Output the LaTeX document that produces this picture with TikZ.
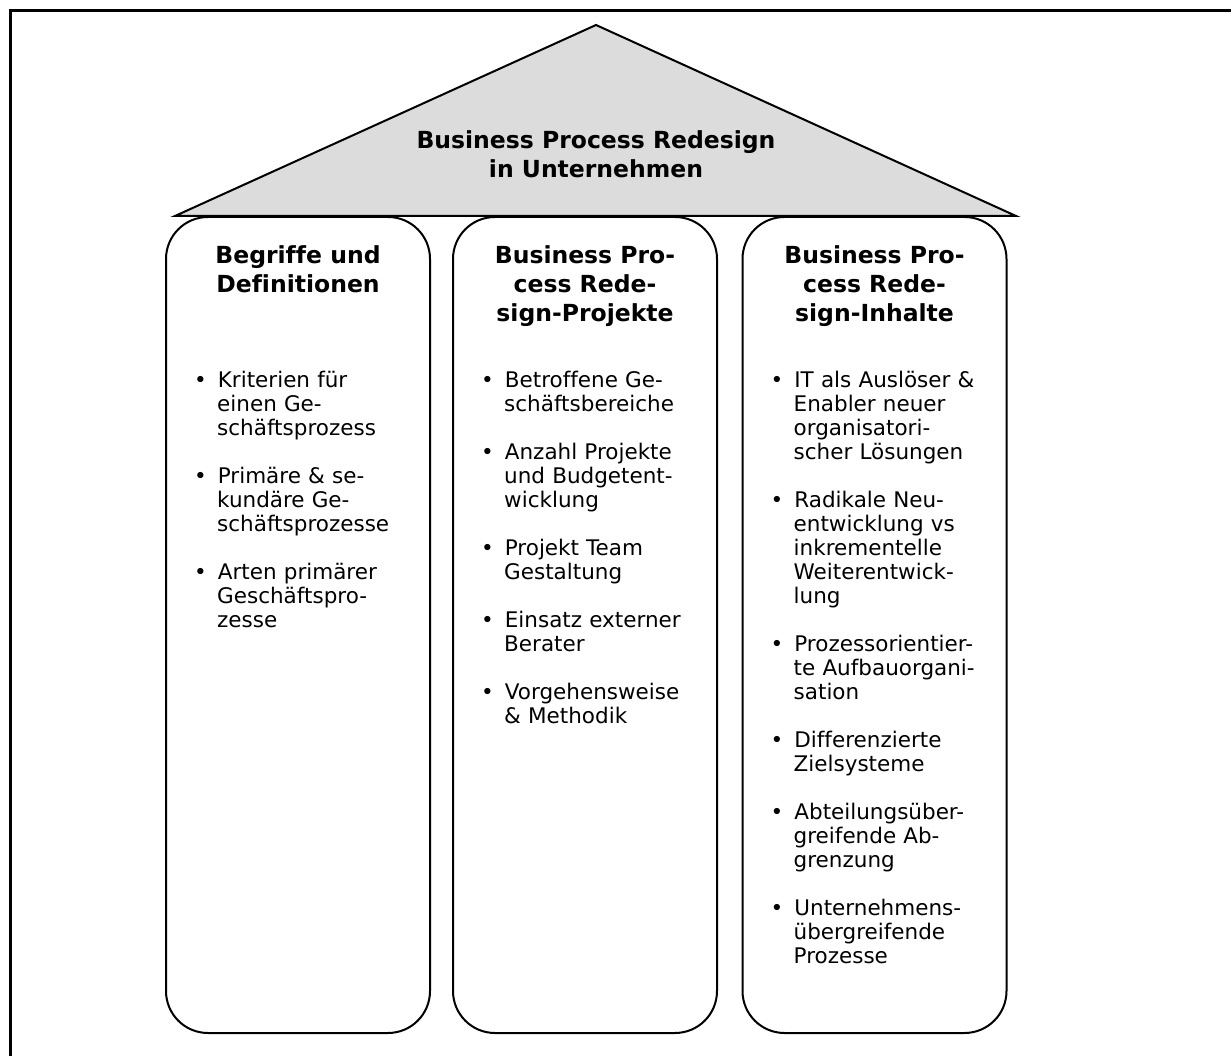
\documentclass[tikz,border=0pt]{standalone}
\usepackage{fontspec}
\setmainfont[Ligatures=NoCommon]{DejaVu Sans}
\usetikzlibrary{positioning}
\definecolor{dachgrau}{RGB}{220,220,220}
\tikzstyle{rahmen} = [line width=3pt]
\tikzstyle{dach} = [draw=black, line width=2pt, fill=dachgrau]
\tikzstyle{saeule} = [rectangle, rounded corners=42pt, draw=black, line width=2pt, minimum width=264pt, minimum height=816pt, outer sep=0pt, inner sep=0pt]
\tikzstyle{titel} = [align=center, inner sep=0pt, font=\bfseries\fontsize{23.5}{29}\selectfont]
\tikzstyle{kopf} = [align=center, inner sep=0pt, font=\bfseries\fontsize{23.5}{29}\selectfont]
\tikzstyle{liste} = [text width=230pt, align=left, inner sep=0pt, font=\fontsize{21.5}{24}\selectfont]
\newenvironment{punkte}{\begin{list}{\textbullet}{\setlength{\leftmargin}{14pt}\setlength{\labelwidth}{12pt}\setlength{\labelsep}{11pt}\setlength{\itemsep}{24pt}\setlength{\parsep}{0pt}\setlength{\topsep}{0pt}\setlength{\partopsep}{0pt}}}{\end{list}}

\begin{document}
\begin{tikzpicture}[x=1pt, y=1pt]

    \useasboundingbox (0,0) rectangle (1231,1055);
    \clip (0,0) rectangle (1231,1055);
    \draw [rahmen] (10.5,1044) rectangle (1260,-20);

    % Dach
    \coordinate (dachL) at (175,839);
    \coordinate (dachR) at (1016,839);
    \coordinate (dachT) at (596,1030);
    \draw [dach] (dachL) -- (dachT) -- (dachR) -- cycle;
    \node (titel) [titel] at (596,901) {Business Process Redesign\\in Unternehmen};

    % Saeulen
    \node (begriffe) [saeule] at (298,430) {};
    \node (projekte) [saeule] at (585,430) {};
    \node (inhalte) [saeule] at (874.5,430) {};

    % Ueberschriften
    \node (begriffeKopf) [kopf, below=28pt of begriffe.north] {Begriffe und\\Definitionen};
    \node (projekteKopf) [kopf, below=28pt of projekte.north] {Business Pro-\\cess Rede-\\sign-Projekte};
    \node (inhalteKopf) [kopf, below=28pt of inhalte.north] {Business Pro-\\cess Rede-\\sign-Inhalte};

    % Stichpunkte
    \node (begriffeListe) [liste, below right=146pt and 37pt of begriffe.north west] {\begin{punkte}
        \item Kriterien für\\einen Ge-\\schäftsprozess
        \item Primäre \& se-\\kundäre Ge-\\schäftsprozesse
        \item Arten primärer\\Geschäftspro-\\zesse
    \end{punkte}};
    \node (projekteListe) [liste, below right=146pt and 37pt of projekte.north west] {\begin{punkte}
        \item Betroffene Ge-\\schäftsbereiche
        \item Anzahl Projekte\\und Budgetent-\\wicklung
        \item Projekt Team\\Gestaltung
        \item Einsatz externer\\Berater
        \item Vorgehensweise\\\& Methodik
    \end{punkte}};
    \node (inhalteListe) [liste, below right=146pt and 37pt of inhalte.north west] {\begin{punkte}
        \item IT als Auslöser \&\\Enabler neuer\\organisatori-\\scher Lösungen
        \item Radikale Neu-\\entwicklung vs\\inkrementelle\\Weiterentwick-\\lung
        \item Prozessorientier-\\te Aufbauorgani-\\sation
        \item Differenzierte\\Zielsysteme
        \item Abteilungsüber-\\greifende Ab-\\grenzung
        \item Unternehmens-\\übergreifende\\Prozesse
    \end{punkte}};

\end{tikzpicture}
\end{document}
